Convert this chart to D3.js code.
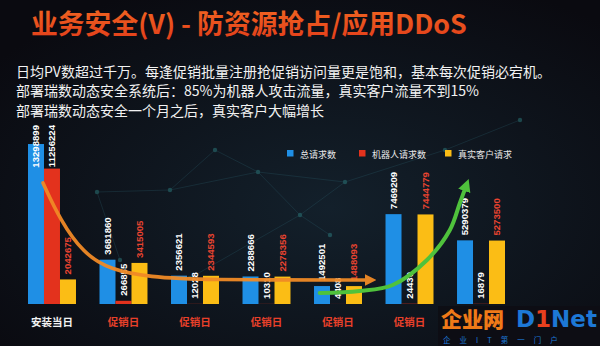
<!DOCTYPE html>
<html><head><meta charset="utf-8">
<script src="https://cdn.jsdelivr.net/npm/d3@7"></script>
<style>
html,body{margin:0;padding:0;background:#0b0c13;}
svg{display:block;}
</style></head>
<body>
<svg id="c" width="600" height="346"></svg>
<script>
// ---- data ----
const categories = ["安装当日","促销日","促销日","促销日","促销日","促销日","促销日"];
const seriesNames = ["总请求数","机器人请求数","真实客户请求"];
const totalRequests = [13298899, 3681860, 2356621, 2288666, 1492501, 7469209, 5290379];
const robotRequests = [11256224, 266855, 12028, 10310, 4408, 24430, 16879];
const realRequests  = [2042675, 3415005, 2344593, 2278356, 1488093, 7444779, 5273500];
const titleText = "业务安全(V) - 防资源抢占/应用DDoS";
const notes = [
  "日均PV数超过千万。每逢促销批量注册抢促销访问量更是饱和，基本每次促销必宕机。",
  "部署瑞数动态安全系统后：85%为机器人攻击流量，真实客户流量不到15%",
  "部署瑞数动态安全一个月之后，真实客户大幅增长"
];
// annotation arrows in data space: [group position, value]
const declineArrow = [[0.21,10.06e6],[0.45,6.98e6],[0.77,4.24e6],[1.15,2.83e6],[1.71,2.24e6],[2.41,2.0e6],[4.76,2.0e6]];
const growthArrow  = [[4.08,0.91e6],[4.64,1.08e6],[5.10,1.58e6],[5.58,3.66e6],[5.90,6.15e6],[6.04,8.4e6],[6.12,9.7e6]];

const colors = ["#1f8fe5","#e3321d","#fbbd15"];
const labelColors = ["#ffffff","#ffffff","#ea4430"];
const series = [totalRequests, robotRequests, realRequests];

const svg = d3.select("#c");
const W = 600, H = 346;
const CJK = "'Noto Sans CJK SC','Noto Sans',sans-serif";

// background
const defs = svg.append("defs");
const rg = defs.append("radialGradient").attr("id","bg").attr("cx","0.55").attr("cy","0.6").attr("r","0.7");
rg.append("stop").attr("offset","0").attr("stop-color","#13202b");
rg.append("stop").attr("offset","1").attr("stop-color","#0a0a10");
svg.append("rect").attr("width",W).attr("height",H).attr("fill","url(#bg)");
const tg = defs.append("linearGradient").attr("id","tg").attr("x1","0").attr("x2","0").attr("y1","0").attr("y2","1");
tg.append("stop").attr("offset","0").attr("stop-color","#f26a22");
tg.append("stop").attr("offset","1").attr("stop-color","#e23c1a");

// faint network decoration
const deco = [[97,192],[170,190],[258,172],[300,215],[345,182],[190,278],[215,150],[330,235],[120,260],[445,150],[520,120]];
const decoLinks = [[0,1],[1,2],[2,3],[3,4],[2,4],[1,6],[6,2],[3,7],[5,3],[0,8],[4,9],[9,10]];
const dg = svg.append("g").attr("opacity",0.35);
dg.selectAll("line").data(decoLinks).join("line")
  .attr("x1",d=>deco[d[0]][0]).attr("y1",d=>deco[d[0]][1])
  .attr("x2",d=>deco[d[1]][0]).attr("y2",d=>deco[d[1]][1])
  .attr("stroke","#2f6a78").attr("stroke-width",0.7);
dg.selectAll("circle").data(deco).join("circle")
  .attr("cx",d=>d[0]).attr("cy",d=>d[1]).attr("r",2.2).attr("fill","#3aa9a8");

// title
svg.append("text").attr("x",31).attr("y",34)
  .attr("font-family",CJK).attr("font-weight",700).attr("font-size",26.8)
  .attr("fill","url(#tg)").text(titleText);

// notes
svg.selectAll("text.note").data(notes).join("text").attr("class","note")
  .attr("x",16).attr("y",(d,i)=>77+i*19.3)
  .attr("font-family",CJK).attr("font-size",14).attr("fill","#f2f2f2").text(d=>d);

// scales
const x0 = d3.scaleBand().domain(d3.range(categories.length))
  .range([28, 28 + 7*71.5 - 23.5]).paddingInner(0.329).paddingOuter(0);
const x1 = d3.scaleBand().domain(d3.range(3)).range([0, x0.bandwidth()]);
const y = d3.scaleLinear().domain([0, 14e6]).range([304, 304 - 14*12.03]);
const xPos = t => x0(0) + t * x0.step();

// bars
const g = svg.append("g");
const groups = g.selectAll("g.grp").data(categories).join("g").attr("class","grp")
  .attr("transform",(d,i)=>`translate(${x0(i)},0)`);
series.forEach((vals, s) => {
  groups.append("rect")
    .attr("x", x1(s)).attr("width", x1.bandwidth())
    .attr("y", (d,i)=>y(vals[i])).attr("height",(d,i)=>y(0)-y(vals[i]))
    .attr("fill", colors[s]);
});

// value labels
series.forEach((vals, s) => {
  groups.each(function(d,i){
    const cx = x1(s) + x1.bandwidth()/2;
    const t = d3.select(this).append("text")
      .attr("font-family","'Liberation Sans',Arial,sans-serif")
      .attr("font-weight",700).attr("font-size",9.6)
      .attr("fill",labelColors[s]).attr("text-anchor","start")
      .text(vals[i]);
    const len = t.node().getComputedTextLength();
    let start = Math.min(y(vals[i]) - 5, y(0) - 2);
    if (start - len < 125) start = 125 + len;
    t.attr("transform",`translate(${cx+3.4},${start}) rotate(-90)`);
  });
});

// category labels
svg.selectAll("text.cat").data(categories).join("text").attr("class","cat")
  .attr("x",(d,i)=>x0(i)+x0.bandwidth()/2).attr("y",326)
  .attr("text-anchor","middle").attr("font-family",CJK).attr("font-weight",700)
  .attr("font-size",10.5).attr("fill",(d,i)=>i===0?"#f2f2f2":"#e8402a").text(d=>d);

// legend
const legX = [287, 359, 445];
const lg = svg.append("g");
seriesNames.forEach((n,i)=>{
  lg.append("rect").attr("x",legX[i]).attr("y",150).attr("width",6.5).attr("height",6.5).attr("fill",colors[i]);
  lg.append("text").attr("x",legX[i]+13).attr("y",157.5).attr("font-family",CJK)
    .attr("font-size",9).attr("fill","#e8e8e8").text(n);
});

// arrows
function arrowMarker(id, color){
  defs.append("marker").attr("id",id).attr("viewBox","0 0 10 10")
    .attr("refX",3).attr("refY",5).attr("markerWidth",3.2).attr("markerHeight",3.2)
    .attr("orient","auto").attr("markerUnits","strokeWidth")
    .append("path").attr("d","M0,0 L10,5 L0,10 Z").attr("fill",color);
}
arrowMarker("mo","#f08a26");
arrowMarker("mg","#4fc23c");
svg.append("path").attr("d", d3.line().x(d=>xPos(d[0])).y(d=>y(d[1])).curve(d3.curveBasis)(declineArrow))
  .attr("fill","none").attr("stroke","#f08a26").attr("stroke-width",3.6)
  .attr("stroke-linecap","round").attr("opacity",0.95).attr("marker-end","url(#mo)");
svg.append("path").attr("d", d3.line().x(d=>xPos(d[0])).y(d=>y(d[1])).curve(d3.curveCatmullRom)(growthArrow))
  .attr("fill","none").attr("stroke","#4fc23c").attr("stroke-width",4)
  .attr("stroke-linecap","round").attr("marker-end","url(#mg)");

// watermark
const wm = svg.append("g");
wm.append("rect").attr("x",438).attr("y",306).attr("width",162).attr("height",40).attr("fill","#0d0d14").attr("opacity",0.9);
wm.append("text").attr("x",441).attr("y",327).attr("font-family",CJK).attr("font-weight",900)
  .attr("font-size",21).attr("fill","#f07a18").text("企业网");
const dt = wm.append("text").attr("x",516).attr("y",327).attr("font-family","'DejaVu Sans',sans-serif")
  .attr("font-weight",700).attr("font-size",23);
dt.append("tspan").attr("fill","#1d78d6").text("D");
dt.append("tspan").attr("fill","#e8401e").text("1");
dt.append("tspan").attr("fill","#1d78d6").text("Net");
wm.append("text").attr("x",443).attr("y",343).attr("font-family",CJK).attr("font-size",7.5)
  .attr("fill","#1d78d6").attr("letter-spacing",9).text("企业IT第一门户");
</script>
</body></html>
